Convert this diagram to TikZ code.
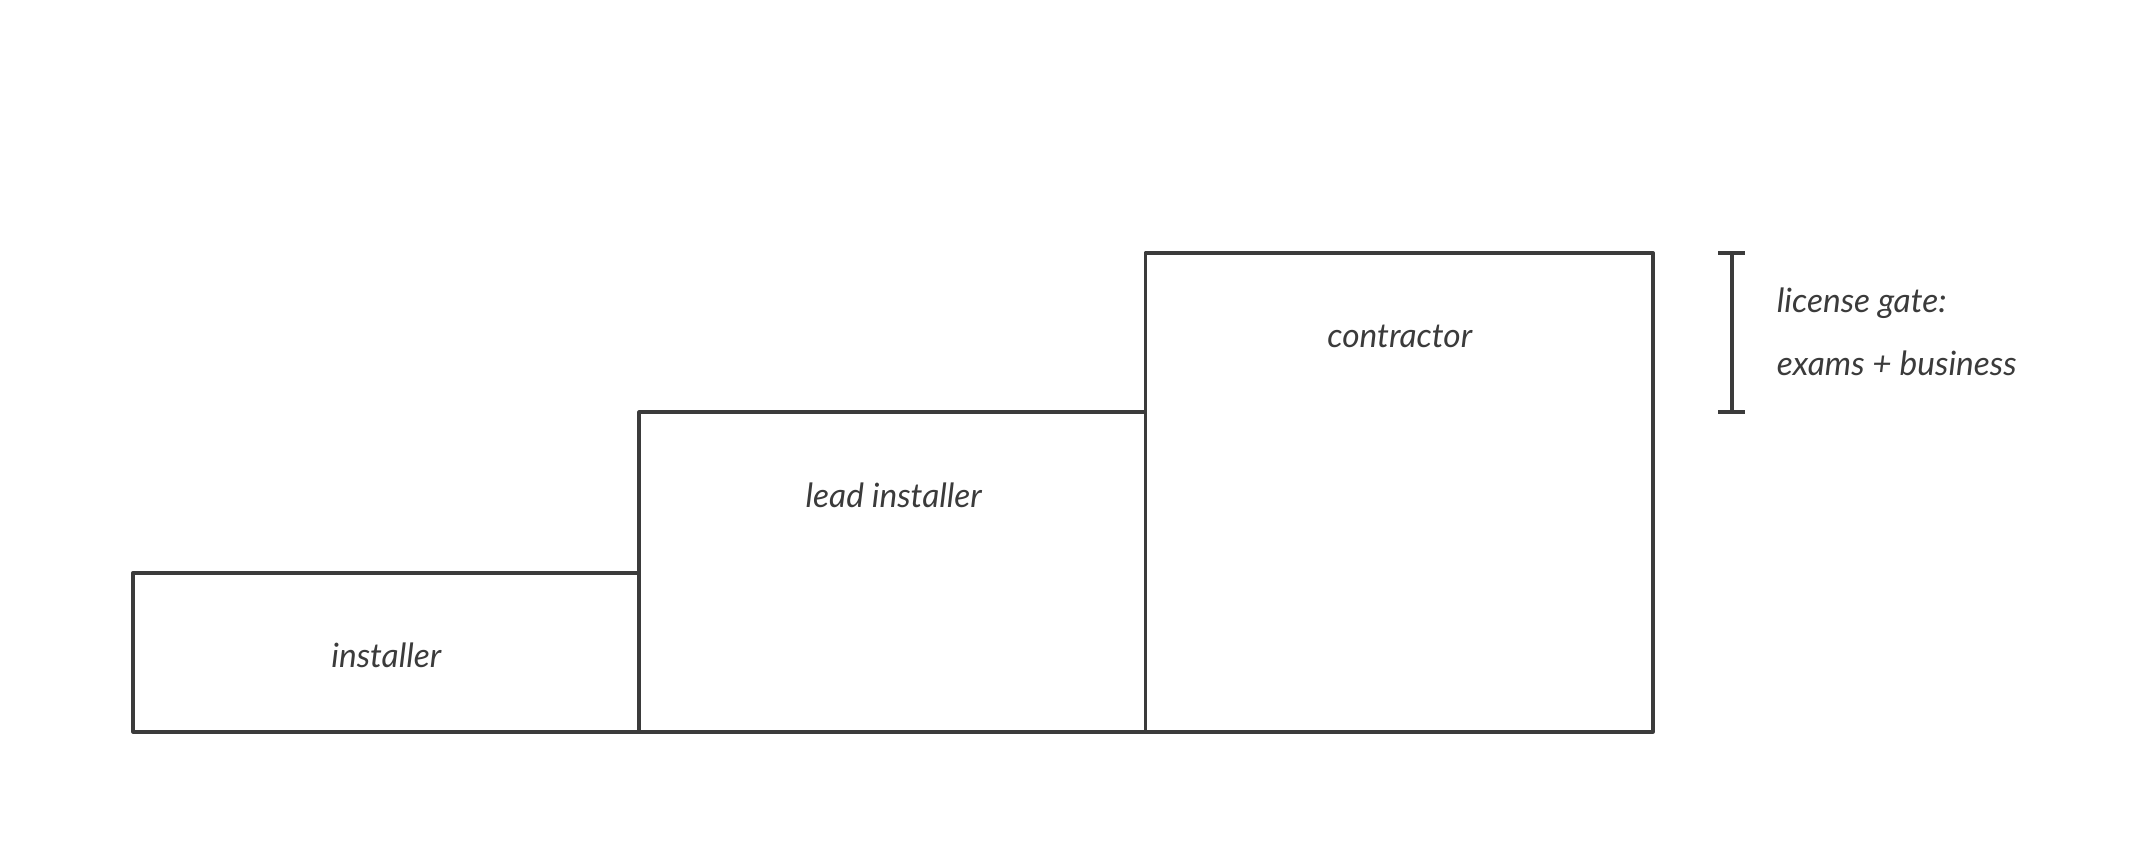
\documentclass[tikz,border=0pt]{standalone}
\usepackage{fontspec}
\setmainfont{Lato}
\definecolor{ink}{HTML}{3B3B3B}
\begin{document}
\begin{tikzpicture}[x=0.02cm,y=-0.02cm,
  box/.style={draw=ink,line width=1.6pt,line join=round},
  lbl/.style={text=ink,font=\itshape\fontsize{14}{16}\selectfont}]
\useasboundingbox (0,0) rectangle (1568,627);
\draw[box] (98,421) rectangle (470,538);
\draw[box] (470,303) rectangle (842,538);
\draw[box] (842,186) rectangle (1215,538);
\node[lbl] (a) at (284,482) {installer};
\node[lbl] (b) at (657,364) {lead installer};
\node[lbl] (c) at (1029,247) {contractor};
\coordinate (t) at (1273,186);
\coordinate (u) at (1273,303);
\draw[box] (t) -- (u);
\draw[box] (1263,186) -- (1283,186);
\draw[box] (1263,303) -- (1283,303);
\node[lbl,anchor=west] (g1) at (1300,223) {license gate:};
\node[lbl,anchor=west] (g2) at (1300,267) {exams + business};
\end{tikzpicture}
\end{document}
